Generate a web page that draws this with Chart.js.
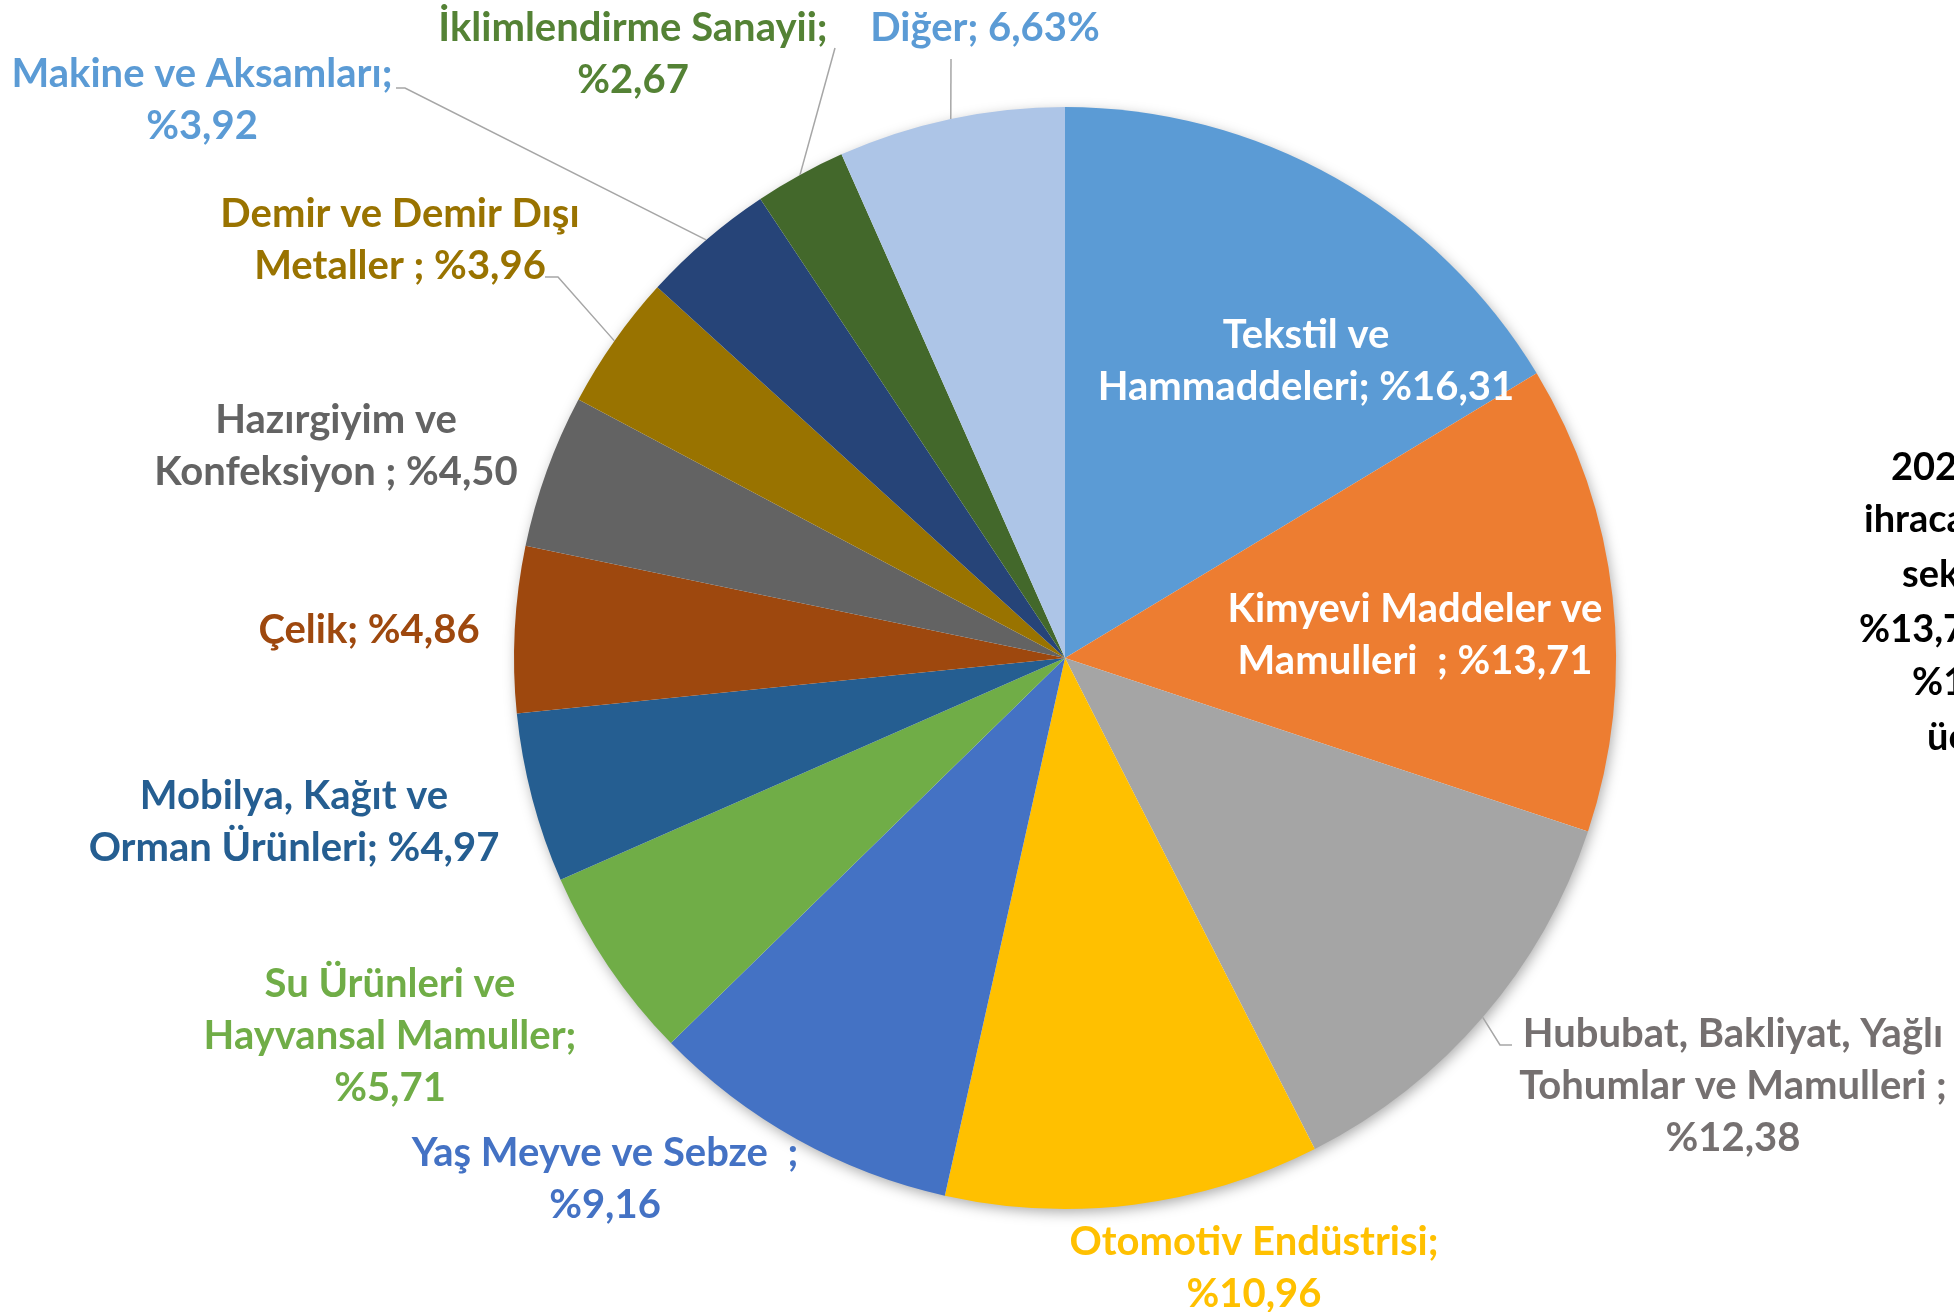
<!DOCTYPE html>
<html>
<head>
<meta charset="utf-8">
<script src="https://cdn.jsdelivr.net/npm/chart.js@4"></script>
<style>
  html, body { margin: 0; padding: 0; background: #ffffff; }
  #wrap { width: 1954px; height: 1312px; position: relative; overflow: hidden; }
</style>
</head>
<body>
<div id="wrap"><canvas id="c" width="1954" height="1312"></canvas></div>
<script>
// ---- data ----
const categories = [
  "Tekstil ve Hammaddeleri",
  "Kimyevi Maddeler ve Mamulleri",
  "Hububat, Bakliyat, Yağlı Tohumlar ve Mamulleri",
  "Otomotiv Endüstrisi",
  "Yaş Meyve ve Sebze",
  "Su Ürünleri ve Hayvansal Mamuller",
  "Mobilya, Kağıt ve Orman Ürünleri",
  "Çelik",
  "Hazırgiyim ve Konfeksiyon",
  "Demir ve Demir Dışı Metaller",
  "Makine ve Aksamları",
  "İklimlendirme Sanayii",
  "Diğer"
];
const shares = [16.31, 13.71, 12.38, 10.96, 9.16, 5.71, 4.97, 4.86, 4.50, 3.96, 3.92, 2.67, 6.63];
// label text lines; {v} is replaced by the share (comma decimal)
const labelLines = [
  ["Tekstil ve", "Hammaddeleri; %{v}"],
  ["Kimyevi Maddeler ve", "Mamulleri  ; %{v}"],
  ["Hububat, Bakliyat, Yağlı", "Tohumlar ve Mamulleri ;", "%{v}"],
  ["Otomotiv Endüstrisi;", "%{v}"],
  ["Yaş Meyve ve Sebze  ;", "%{v}"],
  ["Su Ürünleri ve", "Hayvansal Mamuller;", "%{v}"],
  ["Mobilya, Kağıt ve", "Orman Ürünleri; %{v}"],
  ["Çelik; %{v}"],
  ["Hazırgiyim ve", "Konfeksiyon ; %{v}"],
  ["Demir ve Demir Dışı", "Metaller ; %{v}"],
  ["Makine ve Aksamları;", "%{v}"],
  ["İklimlendirme Sanayii;", "%{v}"],
  ["Diğer; {v}%"]
];
const sideNoteLines = ["2022 yılında", "ihracatta ilk", "sektör", "%13,71 ve", "%12,38 ile", "üçüncü"];

// ---- styles / layout ----
const sliceColors = ["#5B9BD5","#ED7D31","#A5A5A5","#FFC000","#4472C4","#70AD47","#255E91","#9E480E","#636363","#997300","#264478","#43682B","#ADC5E7"];
const labelColors = ["#FFFFFF","#FFFFFF","#757070","#FFC000","#4472C4","#70AD47","#255E91","#9E480E","#636363","#997300","#5B9BD5","#548235","#5B9BD5"];
// first-line centre of each label, line step
const labelPos = [[1306,335],[1415,609],[1733,1034],[1254,1242],[605,1153],[390,984],[294,796],[369,630],[336,420],[400,214],[202,74],[633,28],[985,28]];
const labelLineStep = 52;
// leader lines: bend points after the slice edge point (null = none)
const leaders = {
  2: [[1500,1045],[1512,1045]],
  9: [[558,277],[545,277]],
  10: [[405,88],[396,88]],
  11: [[835,48]],
  12: [[951,59]]
};
const sideNotePos = [[1891,468],[1864,520],[1902,575],[1859,630],[1912,683],[1927,738]];
const FONT = 'Lato, "Open Sans", sans-serif';

const fmt = v => v.toFixed(2).replace('.', ',');

const shadowPlugin = {
  id: 'pieShadow',
  beforeDatasetsDraw(chart) {
    const arc = chart.getDatasetMeta(0).data[0];
    if (!arc) return;
    const ctx = chart.ctx;
    ctx.save();
    ctx.shadowColor = 'rgba(0,0,0,0.35)';
    ctx.shadowBlur = 14;
    ctx.shadowOffsetX = 2;
    ctx.shadowOffsetY = 4;
    ctx.fillStyle = '#ffffff';
    ctx.beginPath();
    ctx.arc(arc.x, arc.y, arc.outerRadius - 1, 0, Math.PI * 2);
    ctx.fill();
    ctx.restore();
  }
};

const labelPlugin = {
  id: 'sliceLabels',
  afterDatasetsDraw(chart) {
    const ctx = chart.ctx;
    const meta = chart.getDatasetMeta(0);
    ctx.save();
    // leader lines
    ctx.strokeStyle = '#A6A6A6';
    ctx.lineWidth = 1.5;
    Object.keys(leaders).forEach(k => {
      const i = +k;
      const a = meta.data[i];
      const mid = (a.startAngle + a.endAngle) / 2;
      const sx = a.x + Math.cos(mid) * a.outerRadius;
      const sy = a.y + Math.sin(mid) * a.outerRadius;
      ctx.beginPath();
      ctx.moveTo(sx, sy);
      leaders[k].forEach(p => ctx.lineTo(p[0], p[1]));
      ctx.stroke();
    });
    // labels
    ctx.font = 'bold 40px ' + FONT;
    ctx.textAlign = 'center';
    ctx.textBaseline = 'middle';
    labelLines.forEach((lines, i) => {
      ctx.fillStyle = labelColors[i];
      const [x, y] = labelPos[i];
      lines.forEach((t, j) => {
        ctx.fillText(t.replace('{v}', fmt(shares[i])), x, y + j * labelLineStep);
      });
    });
    // side note (cut off by the page edge)
    ctx.fillStyle = '#000000';
    ctx.font = 'bold 38px ' + FONT;
    ctx.textAlign = 'left';
    sideNoteLines.forEach((t, j) => {
      ctx.fillText(t, sideNotePos[j][0], sideNotePos[j][1]);
    });
    ctx.restore();
  }
};

new Chart(document.getElementById('c'), {
  type: 'pie',
  data: {
    labels: categories,
    datasets: [{
      data: shares,
      backgroundColor: sliceColors,
      borderWidth: 0
    }]
  },
  options: {
    responsive: false,
    animation: false,
    layout: { padding: { left: 514, right: 338, top: 107, bottom: 103 } },
    plugins: { legend: { display: false }, tooltip: { enabled: false } }
  },
  plugins: [shadowPlugin, labelPlugin]
});
</script>
</body>
</html>
